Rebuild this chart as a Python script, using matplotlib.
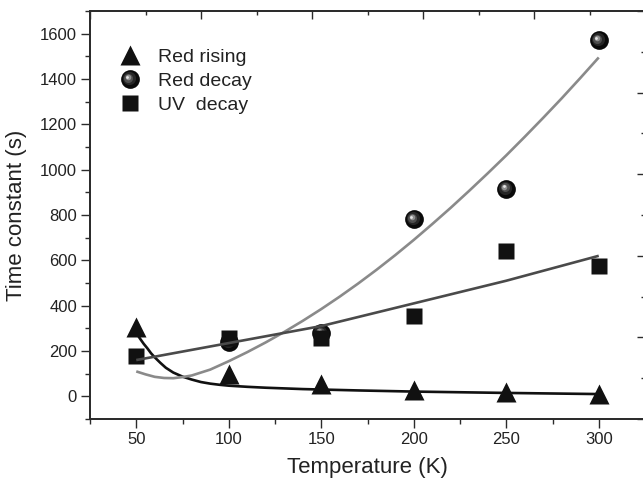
import matplotlib
matplotlib.use('Agg')
import matplotlib.pyplot as plt
import matplotlib.transforms as mtransforms
from matplotlib.lines import Line2D
from matplotlib.legend_handler import HandlerBase
from matplotlib.ticker import MultipleLocator, NullFormatter

plt.rcParams['font.family'] = ['Liberation Sans', 'DejaVu Sans']

# ---- data ----
temps = [50, 100, 150, 200, 250, 300]
red_rising = [305, 100, 55, 30, 20, 12]
red_decay_t = [100, 150, 200, 250, 300]
red_decay = [240, 278, 781, 915, 1570]
uv_decay = [179, 256, 258, 355, 641, 574]

# fitted curves (sampled from the figure)
rise_fit_t = [50, 52, 54, 56, 58, 60, 63, 66, 70, 75, 80, 85, 90, 95, 100, 110, 120,
              140, 170, 200, 250, 300]
rise_fit = [280, 255, 232, 212, 190, 172, 148, 126, 105, 87, 74, 63, 56, 51, 47, 42, 38,
            32, 26, 21, 15, 10]
decay_fit_t = [50, 55, 60, 65, 70, 75, 80, 90, 100, 110, 120, 130, 140, 150, 160, 170,
               180, 190, 200, 210, 220, 230, 240, 250, 260, 270, 280, 290, 300]
decay_fit = [110, 97, 86, 81, 80, 85, 92, 118, 155, 195, 238, 284, 333, 385, 440, 498,
             559, 623, 690, 760, 832, 907, 984, 1063, 1145, 1229, 1315, 1404, 1495]
uv_fit_t = [50, 100, 150, 200, 250, 300]
uv_fit = [160, 235, 310, 410, 510, 620]

x_ticks = [50, 100, 150, 200, 250, 300]
y_ticks = [0, 200, 400, 600, 800, 1000, 1200, 1400, 1600]

# sphere shading layers: (markersize, color, dx, dy) in points
sphere_layers = [(13.5, '#0a0a0a', 0, 0), (9.5, '#262626', -0.7, 0.7),
                 (6.5, '#4f4f4f', -1.2, 1.2), (4.0, '#8f8f8f', -1.6, 1.6),
                 (2.0, '#e6e6e6', -1.8, 1.8)]

fig = plt.figure(figsize=(6.43, 4.78), dpi=100)
ax = fig.add_axes([90 / 643, 59 / 478, 555 / 643, 408 / 478])

spine_c = '#2b2b2b'
for s in ax.spines.values():
    s.set_color(spine_c)
    s.set_linewidth(1.1)

# markers
ax.plot(temps, red_rising, ls='none', marker='^', ms=14.4, color='#111111', mec='none', zorder=3)
for ms, c, dx, dy in sphere_layers:
    tr = mtransforms.offset_copy(ax.transData, fig=fig, x=dx, y=dy, units='points')
    ax.plot(red_decay_t, red_decay, ls='none', marker='o', ms=ms, color=c, mec='none',
            transform=tr, zorder=3)
ax.plot(temps, uv_decay, ls='none', marker='s', ms=11.3, color='#111111', mec='none', zorder=3.5)

# fit lines
ax.plot(rise_fit_t, rise_fit, color='#111111', lw=1.9, zorder=4, solid_capstyle='butt',
        solid_joinstyle='round')
ax.plot(decay_fit_t, decay_fit, color='#8a8a8a', lw=1.9, zorder=4, solid_capstyle='butt',
        solid_joinstyle='round')
ax.plot(uv_fit_t, uv_fit, color='#4a4a4a', lw=1.9, zorder=4, solid_capstyle='butt',
        solid_joinstyle='round')

ax.set_xlim(25, 325)
ax.set_ylim(-100, 1700)
ax.set_xticks(x_ticks)
ax.set_yticks(y_ticks)
ax.xaxis.set_minor_locator(MultipleLocator(25))
ax.yaxis.set_minor_locator(MultipleLocator(100))
ax.tick_params(which='major', direction='out', length=6.3, width=1.0, color=spine_c,
               labelsize=12, pad=3, labelcolor='#222222')
ax.tick_params(which='minor', direction='out', length=3.3, width=1.0, color=spine_c)
ax.tick_params(top=False, right=False, which='both')

ax.set_xlabel('Temperature (K)', fontsize=16, color='#222222', labelpad=7.5)
ax.set_ylabel('Time constant (s)', fontsize=16, color='#222222', labelpad=9)

# top / right auxiliary tick axes
axt = ax.twiny()
axt.set_xlim(0, 5)
axt.xaxis.set_major_locator(MultipleLocator(1))
axt.xaxis.set_minor_locator(MultipleLocator(0.5))
axt.xaxis.set_major_formatter(NullFormatter())
axt.tick_params(which='major', direction='in', length=5.8, width=1.0, color=spine_c)
axt.tick_params(which='minor', direction='in', length=3.0, width=1.0, color=spine_c)
axr = ax.twinx()
axr.set_ylim(0, 5)
axr.yaxis.set_major_locator(MultipleLocator(1))
axr.yaxis.set_minor_locator(MultipleLocator(0.5))
axr.yaxis.set_major_formatter(NullFormatter())
axr.tick_params(which='major', direction='in', length=5.8, width=1.0, color=spine_c)
axr.tick_params(which='minor', direction='in', length=3.0, width=1.0, color=spine_c)
for a in (axt, axr):
    for s in a.spines.values():
        s.set_color(spine_c)
        s.set_linewidth(1.1)


class SphereHandler(HandlerBase):
    def create_artists(self, legend, orig_handle, xdescent, ydescent, width, height,
                       fontsize, trans):
        cx = width / 2 - xdescent
        cy = height / 2 - ydescent
        arts = []
        for ms, c, dx, dy in sphere_layers:
            l = Line2D([cx + dx], [cy + dy], ls='none', marker='o', ms=ms, color=c, mec='none')
            l.set_transform(trans)
            arts.append(l)
        return arts


h_tri = Line2D([], [], ls='none', marker='^', ms=14.4, color='#111111', mec='none')
h_sph = Line2D([], [], ls='none', marker='o', ms=13.5, color='#111111', mec='none')
h_sq = Line2D([], [], ls='none', marker='s', ms=11.3, color='#111111', mec='none')
leg = ax.legend([h_tri, h_sph, h_sq], ['Red rising', 'Red decay', 'UV  decay'],
                handler_map={h_sph: SphereHandler()},
                loc='upper left', bbox_to_anchor=(0.051, 0.908), frameon=False,
                fontsize=14, handlelength=1.2, handletextpad=0.85, labelspacing=0.33,
                borderpad=0, borderaxespad=0)
for t in leg.get_texts():
    t.set_color('#222222')
leg.set_zorder(5)

fig.savefig('out.png', dpi=100)
